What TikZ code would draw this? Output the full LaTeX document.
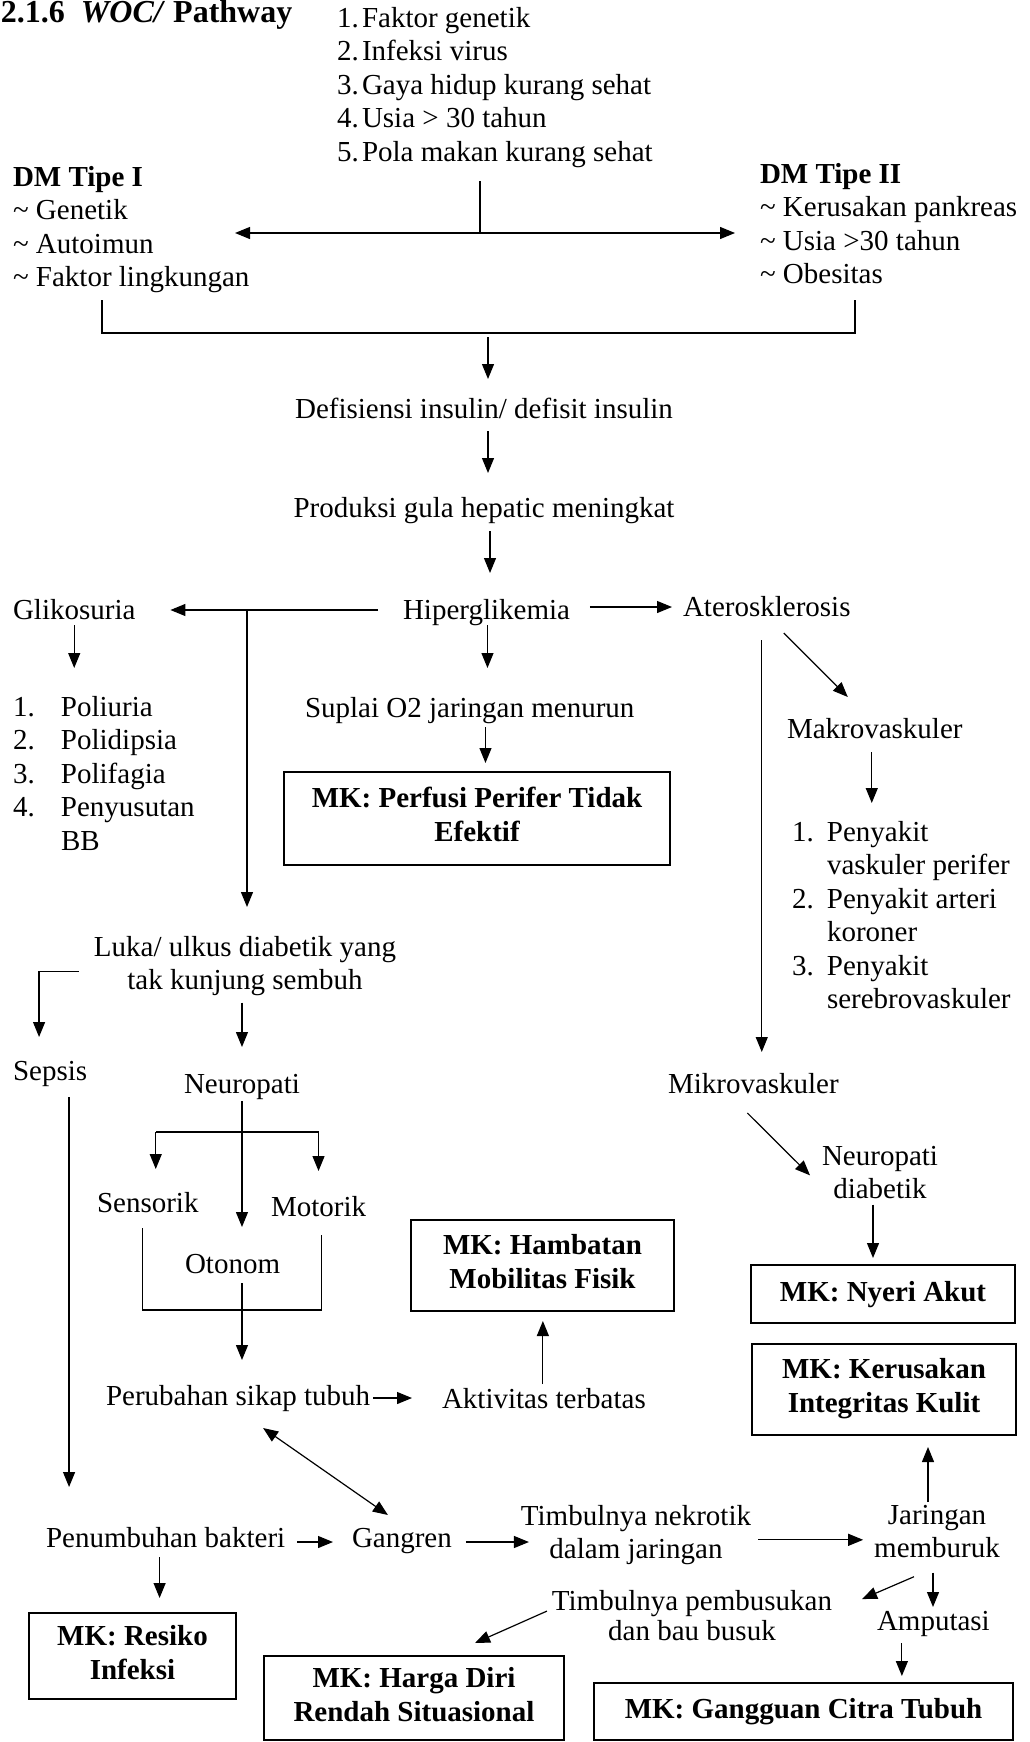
\documentclass[tikz,border=0pt]{standalone}
\usepackage{fontspec}
\setmainfont{Liberation Serif}
\usetikzlibrary{arrows.meta,calc}
\newcommand\stt{\rule[-8pt]{0pt}{30pt}}
\begin{document}
\begin{tikzpicture}[x=1pt,y=1pt,
  every node/.style={inner sep=0pt, outer sep=0pt, font=\fontsize{29}{33.5}\selectfont,
    execute at begin node=\stt, execute at end node=\stt},
  txt/.style={anchor=north west, align=left},
  ctxt/.style={anchor=north, align=center},
  mk/.style={draw, line width=2.5pt, anchor=north west, align=center, font=\fontsize{29}{34}\selectfont\bfseries},
  arr/.style={line width=1.2pt, -{Triangle[length=15pt,width=12pt]}},
  ln/.style={line width=1.2pt},
  darr/.style={line width=1.2pt, {Triangle[length=15pt,width=12pt]}-{Triangle[length=15pt,width=12pt]}}]
\fill[white] (0,0) rectangle (1029,-1742);
\useasboundingbox (0,0) rectangle (1029,-1742);

% title and top
\node[txt, font=\fontsize{32}{34}\selectfont\bfseries] (title) at (1,0) {2.1.6\hspace{16pt}\textit{WOC/} Pathway};
\node[txt] (factors) at (337,-7.3) {\makebox[25pt][l]{1.}Faktor genetik\\\makebox[25pt][l]{2.}Infeksi virus\\\makebox[25pt][l]{3.}Gaya hidup kurang sehat\\\makebox[25pt][l]{4.}Usia > 30 tahun\\\makebox[25pt][l]{5.}Pola makan kurang sehat};
\node[txt] (dm1) at (13,-166) {\textbf{DM Tipe I}\\\textasciitilde{} Genetik\\\textasciitilde{} Autoimun\\\textasciitilde{} Faktor lingkungan};
\node[txt] (dm2) at (760,-163) {\textbf{DM Tipe II}\\\textasciitilde{} Kerusakan pankreas\\\textasciitilde{} Usia >30 tahun\\\textasciitilde{} Obesitas};

\coordinate (j1) at (480,-233);
\coordinate (t1) at (235,-233);
\coordinate (t2) at (735,-233);
\draw[ln] ($(factors.south -| j1)+(0,-12)$) -- (j1);
\draw[arr] (j1) -- (t1);
\draw[arr] (j1) -- (t2);

\coordinate (b1) at (102,-300);
\coordinate (b2) at (102,-333);
\coordinate (b3) at (855,-333);
\coordinate (b4) at (855,-300);
\draw[ln] (b1) -- (b2) -- (b3) -- (b4);

\node[ctxt] (defi) at (484,-396) {Defisiensi insulin/ defisit insulin};
\draw[arr] ($(b2 -| defi.north)+(4,-4)$) -- ($(defi.north)+(4,17)$);
\node[ctxt] (prod) at (484,-495) {Produksi gula hepatic meningkat};
\draw[arr] ($(defi.south)+(4,-5)$) -- ($(prod.north)+(4,22)$);

\node[txt] (hiper) at (403,-597) {Hiperglikemia};
\draw[arr] ($(prod.south)+(6,-6)$) -- ($(prod.south |- hiper.north)+(6,24)$);
\node[txt] (gliko) at (13,-597) {Glikosuria};
\node[txt] (ateros) at (683,-594) {Aterosklerosis};
\draw[arr] ($(hiper.west)+(-25,2)$) -- ($(hiper.west -| gliko.east)+(35,2)$);

\node[ctxt] (luka) at (245,-936) {Luka/ ulkus diabetik yang\\tak kunjung sembuh};
\coordinate (j2) at ($(hiper.west -| luka.north)+(2,2)$);
\draw[arr] (j2) -- ($(luka.north)+(2,29)$);

\node[txt] (suplai) at (305,-695) {Suplai O2 jaringan menurun};
\draw[arr] ($(hiper.south)+(1,2)$) -- ($(hiper.south |- suplai.north)+(1,27)$);
\node[mk, minimum width=386pt, minimum height=93pt] (perfusi) at (284,-772) {MK: Perfusi Perifer Tidak\\Efektif};
\draw[arr] ($(hiper.south |- suplai.south)+(-1,-2)$) -- ($(hiper.south |- perfusi.north)+(-1,9)$);
\draw[arr] ($(hiper.east)+(20,5)$) -- ($(ateros.west |- hiper.east)+(-11,5)$);

\node[txt] (poly) at (13,-696) {\makebox[48pt][l]{1.}Poliuria\\\makebox[48pt][l]{2.}Polidipsia\\\makebox[48pt][l]{3.}Polifagia\\\makebox[48pt][l]{4.}Penyusutan\\\hspace*{48pt}BB};
\draw[arr] ($(gliko.south)+(0,2)$) -- ($(gliko.south |- poly.north)+(0,28)$);

% right column
\node[txt] (mikro) at (668,-1071) {Mikrovaskuler};
\draw[arr] ($(ateros.south)+(-5,-16)$) -- ($(ateros.south |- mikro.north)+(-5,19)$);
\node[txt] (makro) at (787,-716) {Makrovaskuler};
\draw[arr] ($(ateros.south)+(17,-9)$) -- ($(makro.north)+(-27,19)$);
\node[txt] (makrolist) at (792,-821) {\makebox[35pt][l]{1.}Penyakit\\\hspace*{35pt}vaskuler perifer\\\makebox[35pt][l]{2.}Penyakit arteri\\\hspace*{35pt}koroner\\\makebox[35pt][l]{3.}Penyakit\\\hspace*{35pt}serebrovaskuler};
\draw[arr] ($(makro.south)+(-3,-6)$) -- ($(makro.south |- makrolist.north)+(-3,18)$);

\node[ctxt] (neudiab) at (880,-1146) {Neuropati\\diabetik};
\draw[arr] ($(mikro.south)+(-6,-12)$) -- ($(neudiab.west)+(-12,1)$);
\node[mk, minimum width=264pt, minimum height=58pt] (nyeri) at (751,-1265) {MK: Nyeri Akut};
\draw[arr] ($(neudiab.south)+(-7,2)$) -- ($(neudiab.south |- nyeri.north)+(-7,7)$);
\node[mk, minimum width=264pt, minimum height=91pt] (kerusakan) at (752,-1344) {MK: Kerusakan\\Integritas Kulit};
\node[mk, minimum width=263pt, minimum height=91pt] (hambatan) at (411,-1220) {MK: Hambatan\\Mobilitas Fisik};

% left middle
\node[txt] (sepsis) at (13,-1058) {Sepsis};
\draw[arr] ($(luka.west)+(-15,-5)$) -| ($(sepsis.north)+(-11,21)$);
\node[txt] (neuro) at (184,-1071) {Neuropati};
\draw[arr] ($(neuro.north |- luka.south)+(0,-5)$) -- ($(neuro.north)+(0,24)$);

\node[txt] (sensorik) at (97,-1190) {Sensorik};
\node[txt] (motorik) at (271,-1194) {Motorik};
\node[txt] (otonom) at (185,-1251) {Otonom};
\coordinate (nb) at ($(neuro.south)+(0,-31)$);
\draw[arr] (neuro.south) -- ($(neuro.south |- otonom.north)+(0,24)$);
\draw[ln] ($(sensorik.north |- nb)+(8,0)$) -- (motorik.north |- nb);
\draw[arr] ($(sensorik.north |- nb)+(8,0)$) -- ($(sensorik.north)+(8,21)$);
\draw[arr] (motorik.north |- nb) -- ($(motorik.north)+(0,23)$);
\coordinate (bkl) at ($(sensorik.south)+(-5,-90)$);
\draw[ln] ($(sensorik.south)+(-5,-8)$) -- (bkl) -- ($(motorik.south |- bkl)+(3,0)$) -- ($(motorik.south)+(3,-11)$);

\node[txt] (perubahan) at (106,-1383) {Perubahan sikap tubuh};
\draw[arr] ($(neuro.south |- otonom.south)+(0,-2)$) -- ($(neuro.south |- perubahan.north)+(0,23)$);
\node[txt] (aktivitas) at (442,-1386) {Aktivitas terbatas};
\draw[arr] ($(perubahan.east)+(3,0)$) -- ($(perubahan.east -| aktivitas.west)+(-30,0)$);
\draw[arr] ($(aktivitas.north)+(-1,2)$) -- ($(aktivitas.north |- hambatan.south)+(-1,-10)$);

% bottom
\node[txt] (penumbuhan) at (46,-1525) {Penumbuhan bakteri};
\draw[arr] ($(sepsis.south)+(19,-9)$) -- ($(sepsis.south |- penumbuhan.north)+(19,38)$);
\node[txt] (gangren) at (352,-1525) {Gangren};
\draw[arr] ($(penumbuhan.east)+(12,-2)$) -- ($(penumbuhan.east -| gangren.west)+(-19,-2)$);
\node[mk, minimum width=207pt, minimum height=86pt] (resiko) at (29,-1613) {MK: Resiko\\Infeksi};
\draw[arr] ($(penumbuhan.south)+(-6,-2)$) -- ($(penumbuhan.south |- resiko.north)+(-6,15)$);
\draw[darr] ($(perubahan.south)+(25,-15)$) -- ($(gangren.north)+(-14,10)$);

\node[ctxt] (nekrotik) at (636,-1505) {Timbulnya nekrotik\\dalam jaringan};
\draw[arr] ($(gangren.east)+(14,-2)$) -- ($(gangren.east -| nekrotik.west)+(8,-2)$);
\node[ctxt] (jaringan) at (937,-1505) {Jaringan\\memburuk};
\draw[arr] ($(nekrotik.east)+(7,-4)$) -- ($(nekrotik.east -| jaringan.west)+(-11,-4)$);
\draw[arr] ($(jaringan.north)+(-9,3)$) -- ($(jaringan.north |- kerusakan.south)+(-9,-12)$);

\node[txt] (amputasi) at (877,-1608) {Amputasi};
\draw[arr] ($(jaringan.south)+(-4,-7)$) -- ($(jaringan.south |- amputasi.north)+(-4,1)$);
\node[ctxt, font=\fontsize{29}{30}\selectfont] (pembusukan) at (692,-1590) {Timbulnya pembusukan\\dan bau busuk};
\draw[arr] ($(jaringan.south)+(-23,-11)$) -- ($(pembusukan.east)+(30,20)$);
\node[mk, minimum width=300pt, minimum height=84pt] (harga) at (264,-1656) {MK: Harga Diri\\Rendah Situasional};
\draw[arr] ($(pembusukan.west)+(-5,8)$) -- ($(harga.north)+(61,13)$);
\node[mk, minimum width=419pt, minimum height=57pt] (gangguan) at (594,-1683) {MK: Gangguan Citra Tubuh};
\draw[arr] ($(amputasi.south)+(-31.5,-5)$) -- ($(amputasi.south |- gangguan.north)+(-31.5,7)$);
\end{tikzpicture}
\end{document}
